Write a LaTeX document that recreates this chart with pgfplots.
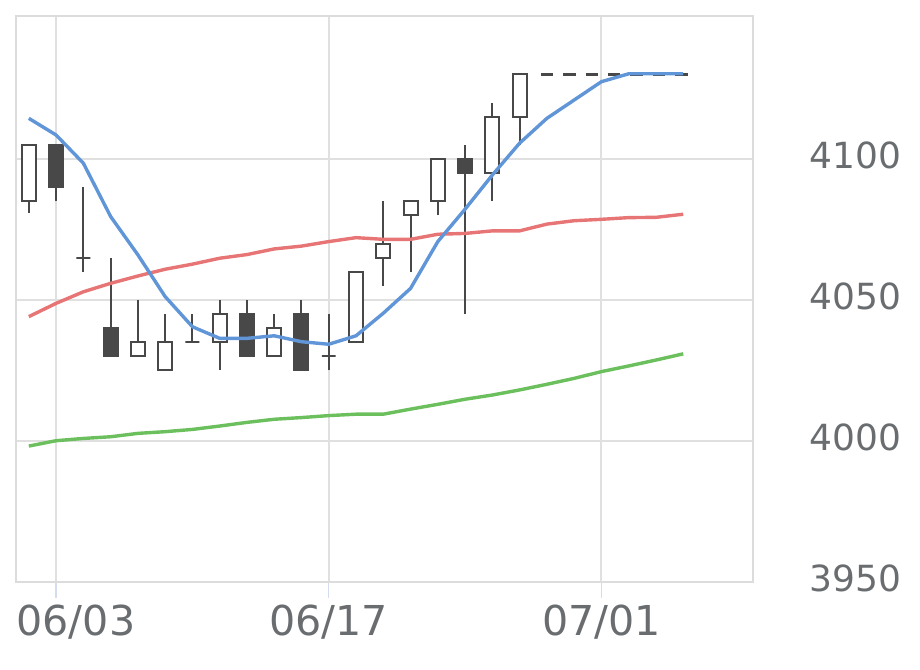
\documentclass[border=0pt]{standalone}
\usepackage{fontspec}
\setmainfont{DejaVu Sans}
\usepackage{pgfplots}
\pgfplotsset{compat=1.18}
\definecolor{candle}{HTML}{484848}
\definecolor{maS}{HTML}{6096D8}
\definecolor{maM}{HTML}{E87575}
\definecolor{maL}{HTML}{6BBF5C}
\definecolor{gridc}{HTML}{E0E0E0}
\definecolor{framec}{HTML}{DCDCDC}
\definecolor{labelc}{HTML}{6A6D70}
\definecolor{tickc}{HTML}{D3DDEE}
% \candle{x}{open}{high}{low}{close}{fill}
\newcommand\candle[6]{%
  \pgfmathsetmacro\xa{#1-0.2565}\pgfmathsetmacro\xb{#1+0.2565}%
  \addplot[draw=candle, line width=1pt] coordinates {(#1,#4) (#1,#3)};
  \addplot[draw=candle, line width=1pt, fill=#6, line join=miter]
    coordinates {(#1,#2) (\xb,#2) (\xb,#5) (\xa,#5) (\xa,#2) (#1,#2)};
}
\begin{document}
\begin{tikzpicture}
\path[use as bounding box] (0,0) rectangle (460pt,334.5pt);
\begin{axis}[
  at={(8pt,43.5pt)}, anchor=south west,
  width=368.5pt, height=283.15pt, scale only axis,
  xmin=-1.47, xmax=25.56, ymin=3950, ymax=4150.8,
  xtick={0,10,20}, xticklabels={\makebox[0pt][l]{\hspace*{-19.75pt}06/03},06/17,07/01},
  ytick={3950,4000,4050,4100}, yticklabels={3950,4000,4050,4100},
  xtick pos=bottom,
  grid=major, major grid style={draw=gridc, line width=1pt},
  axis line style={draw=framec, line width=1pt},
  tick align=outside, major tick length=8pt,
  xtick style={draw=tickc, line width=0.75pt},
  ytick style={draw=none},
  yticklabel pos=right,
  xticklabel style={font=\fontsize{20.6}{24}\selectfont, text=labelc, anchor=north, inner sep=0pt, yshift=-3.5pt},
  yticklabel style={font=\fontsize{18}{22}\selectfont, text=labelc, anchor=east, inner sep=0pt, xshift=66.25pt, yshift=1.75pt},
  clip=false,
]
\candle{-1}{4085}{4105}{4081}{4105}{white}
\candle{0}{4105}{4105}{4085}{4090}{candle}
\candle{1}{4065}{4090}{4060}{4065}{white}
\candle{2}{4040}{4065}{4030}{4030}{candle}
\candle{3}{4030}{4050}{4030}{4035}{white}
\candle{4}{4025}{4045}{4025}{4035}{white}
\candle{5}{4035}{4045}{4035}{4035}{white}
\candle{6}{4035}{4050}{4025}{4045}{white}
\candle{7}{4045}{4050}{4030}{4030}{candle}
\candle{8}{4030}{4045}{4030}{4040}{white}
\candle{9}{4045}{4050}{4025}{4025}{candle}
\candle{10}{4030}{4045}{4025}{4030}{white}
\candle{11}{4035}{4060}{4035}{4060}{white}
\candle{12}{4065}{4085}{4055}{4070}{white}
\candle{13}{4080}{4085}{4060}{4085}{white}
\candle{14}{4085}{4100}{4080}{4100}{white}
\candle{15}{4100}{4105}{4045}{4095}{candle}
\candle{16}{4095}{4120}{4085}{4115}{white}
\candle{17}{4115}{4130}{4105}{4130}{white}
\addplot[draw=candle, line width=1.15pt, dash pattern=on 6.2pt off 5pt] coordinates {(17.78,4130) (23.25,4130)};
\addplot[maL, line width=1.7pt, line join=round] coordinates {
(-1,3998.2) (0,4000.1) (1,4000.9) (2,4001.5) (3,4002.7) (4,4003.3) (5,4004.1) (6,4005.3)
(7,4006.6) (8,4007.7) (9,4008.3) (10,4009.0) (11,4009.5) (12,4009.5) (13,4011.3) (14,4013.0)
(15,4014.8) (16,4016.3) (17,4018.1) (18,4020.1) (19,4022.2) (20,4024.6) (21,4026.6) (22,4028.7) (23,4030.9)};
\addplot[maM, line width=1.7pt, line join=round] coordinates {
(-1,4044.1) (0,4048.8) (1,4052.9) (2,4055.9) (3,4058.5) (4,4060.9) (5,4062.7) (6,4064.8)
(7,4066.1) (8,4068.1) (9,4069.1) (10,4070.7) (11,4072.1) (12,4071.5) (13,4071.5) (14,4073.3)
(15,4073.6) (16,4074.5) (17,4074.5) (18,4076.9) (19,4078.1) (20,4078.6) (21,4079.2) (22,4079.3) (23,4080.4)};
\addplot[maS, line width=1.7pt, line join=round] coordinates {
(-1,4114.4) (0,4108.5) (1,4098.5) (2,4079.6) (3,4066.0) (4,4051.2) (5,4040.5) (6,4036.4)
(7,4036.4) (8,4037.3) (9,4035.2) (10,4034.3) (11,4037.3) (12,4045.3) (13,4054.1) (14,4070.7)
(15,4082.2) (16,4094.3) (17,4105.6) (18,4114.4) (19,4120.9) (20,4127.4) (21,4130.2) (22,4130.2) (23,4130.2)};
\end{axis}
\end{tikzpicture}
\end{document}
